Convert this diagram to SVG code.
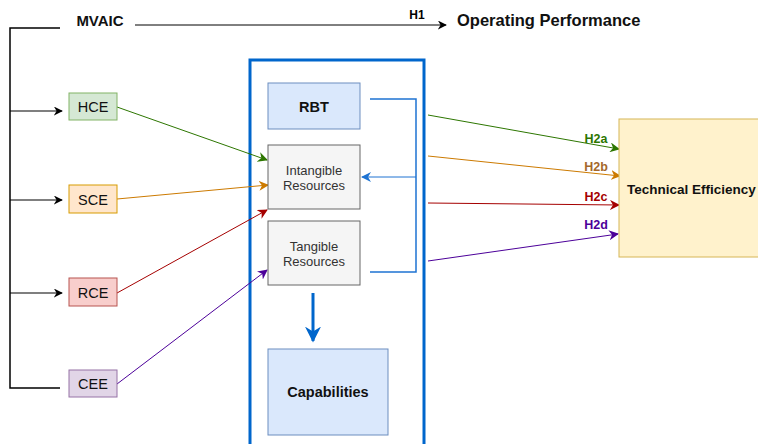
<svg xmlns="http://www.w3.org/2000/svg" width="758" height="444" viewBox="0 0 758 444">
<defs>
<style>
text{font-family:"Liberation Sans",Arial,sans-serif}
.lbl{font-size:14.5px;fill:#111;text-anchor:middle}
.b{font-weight:bold}
.gray{font-size:13px;fill:#333;text-anchor:middle}
.h{font-size:12.5px;font-weight:bold;text-anchor:middle}
</style>
<marker id="ak" viewBox="0 0 10 10" refX="9" refY="5" markerWidth="9" markerHeight="9" markerUnits="userSpaceOnUse" orient="auto"><path d="M0,0L10,5L0,10L3,5Z" fill="#000"/></marker>
<marker id="ag" viewBox="0 0 10 10" refX="9" refY="5" markerWidth="10" markerHeight="10" markerUnits="userSpaceOnUse" orient="auto"><path d="M0,0L10,5L0,10L3,5Z" fill="#2D7600"/></marker>
<marker id="ao" viewBox="0 0 10 10" refX="9" refY="5" markerWidth="10" markerHeight="10" markerUnits="userSpaceOnUse" orient="auto"><path d="M0,0L10,5L0,10L3,5Z" fill="#CC7A00"/></marker>
<marker id="ar" viewBox="0 0 10 10" refX="9" refY="5" markerWidth="10" markerHeight="10" markerUnits="userSpaceOnUse" orient="auto"><path d="M0,0L10,5L0,10L3,5Z" fill="#A50000"/></marker>
<marker id="ap" viewBox="0 0 10 10" refX="9" refY="5" markerWidth="10" markerHeight="10" markerUnits="userSpaceOnUse" orient="auto"><path d="M0,0L10,5L0,10L3,5Z" fill="#4C0099"/></marker>
<marker id="ab" viewBox="0 0 10 10" refX="9" refY="5" markerWidth="10" markerHeight="10" markerUnits="userSpaceOnUse" orient="auto"><path d="M0,0L10,5L0,10L3,5Z" fill="#1E73D2"/></marker>
<marker id="abig" viewBox="0 0 10 10" refX="9" refY="5" markerWidth="16" markerHeight="16" markerUnits="userSpaceOnUse" orient="auto"><path d="M0,0L10,5L0,10L3,5Z" fill="#0066CC"/></marker>
</defs>
<rect width="758" height="444" fill="#fff"/>

<g id="container">
<rect x="250" y="60" width="174" height="390" fill="none" stroke="#0066CC" stroke-width="3"/>
</g>

<g id="connectors" fill="none">
<path d="M60,28H10V388H60" stroke="#000" stroke-width="1.5"/>
<line x1="10" y1="111" x2="62" y2="111" stroke="#000" stroke-width="1.2" marker-end="url(#ak)"/>
<line x1="10" y1="200" x2="62" y2="200" stroke="#000" stroke-width="1.2" marker-end="url(#ak)"/>
<line x1="10" y1="293" x2="62" y2="293" stroke="#000" stroke-width="1.2" marker-end="url(#ak)"/>
<line x1="135" y1="25" x2="446" y2="25" stroke="#000" stroke-width="1" marker-end="url(#ak)"/>
<line x1="117" y1="107" x2="267" y2="160" stroke="#2D7600" stroke-width="1" marker-end="url(#ag)"/>
<line x1="117" y1="199" x2="268" y2="185" stroke="#CC7A00" stroke-width="1" marker-end="url(#ao)"/>
<line x1="117" y1="293" x2="267" y2="210" stroke="#A50000" stroke-width="1" marker-end="url(#ar)"/>
<line x1="117" y1="384" x2="267" y2="270" stroke="#4C0099" stroke-width="1" marker-end="url(#ap)"/>
<path d="M370,99H416V272H370" stroke="#1E73D2" stroke-width="1.5"/>
<line x1="416" y1="177" x2="362" y2="177" stroke="#1E73D2" stroke-width="1" marker-end="url(#ab)"/>
<line x1="313" y1="293" x2="313" y2="341" stroke="#0066CC" stroke-width="3" marker-end="url(#abig)"/>
<line x1="428" y1="115" x2="619" y2="149" stroke="#2D7600" stroke-width="1" marker-end="url(#ag)"/>
<line x1="428" y1="156" x2="620" y2="176" stroke="#CC7A00" stroke-width="1" marker-end="url(#ao)"/>
<line x1="428" y1="203" x2="619" y2="205" stroke="#A50000" stroke-width="1" marker-end="url(#ar)"/>
<line x1="428" y1="261" x2="618" y2="234" stroke="#4C0099" stroke-width="1" marker-end="url(#ap)"/>
</g>

<g id="labels">
<text x="100" y="26" class="b" font-size="15" text-anchor="middle" fill="#111">MVAIC</text>
<text x="417" y="19" class="b" font-size="12" text-anchor="middle" fill="#000">H1</text>
<text x="457" y="26" class="b" font-size="16.5" fill="#111">Operating Performance</text>
<text x="596" y="143" class="h" fill="#2D7600">H2a</text>
<text x="596" y="171" class="h" fill="#A5672A">H2b</text>
<text x="596" y="201" class="h" fill="#A50000">H2c</text>
<text x="596" y="229" class="h" fill="#4C0099">H2d</text>
</g>

<g id="HCE"><rect x="69" y="93" width="48" height="27" fill="#d5e8d4" stroke="#82b366"/><text x="93" y="112" class="lbl">HCE</text></g>
<g id="SCE"><rect x="69" y="185" width="48" height="28" fill="#ffe6cc" stroke="#d79b00"/><text x="93" y="204.5" class="lbl">SCE</text></g>
<g id="RCE"><rect x="69" y="278" width="48" height="28" fill="#f8cecc" stroke="#b85450"/><text x="93" y="297.5" class="lbl">RCE</text></g>
<g id="CEE"><rect x="69" y="370" width="48" height="27" fill="#e1d5e7" stroke="#9673a6"/><text x="93" y="389" class="lbl">CEE</text></g>

<g id="RBT"><rect x="268" y="83" width="92" height="46" fill="#dae8fc" stroke="#6c8ebf"/><text x="314" y="111.5" class="lbl b" font-size="15.5">RBT</text></g>
<g id="Intangible"><rect x="268" y="145" width="92" height="64" fill="#f5f5f5" stroke="#666"/><text x="314" y="175" class="gray">Intangible</text><text x="314" y="190" class="gray">Resources</text></g>
<g id="Tangible"><rect x="268" y="221" width="92" height="64" fill="#f5f5f5" stroke="#666"/><text x="314" y="251" class="gray">Tangible</text><text x="314" y="266" class="gray">Resources</text></g>
<g id="Capabilities"><rect x="268" y="349" width="120" height="86" fill="#dae8fc" stroke="#6c8ebf"/><text x="328" y="397" class="lbl b" font-size="15.5">Capabilities</text></g>
<g id="TE"><rect x="619" y="119" width="150" height="138" fill="#fff2cc" stroke="#d6b656"/><text x="627" y="194" class="b" font-size="13.5" fill="#111">Technical Efficiency</text></g>
</svg>
